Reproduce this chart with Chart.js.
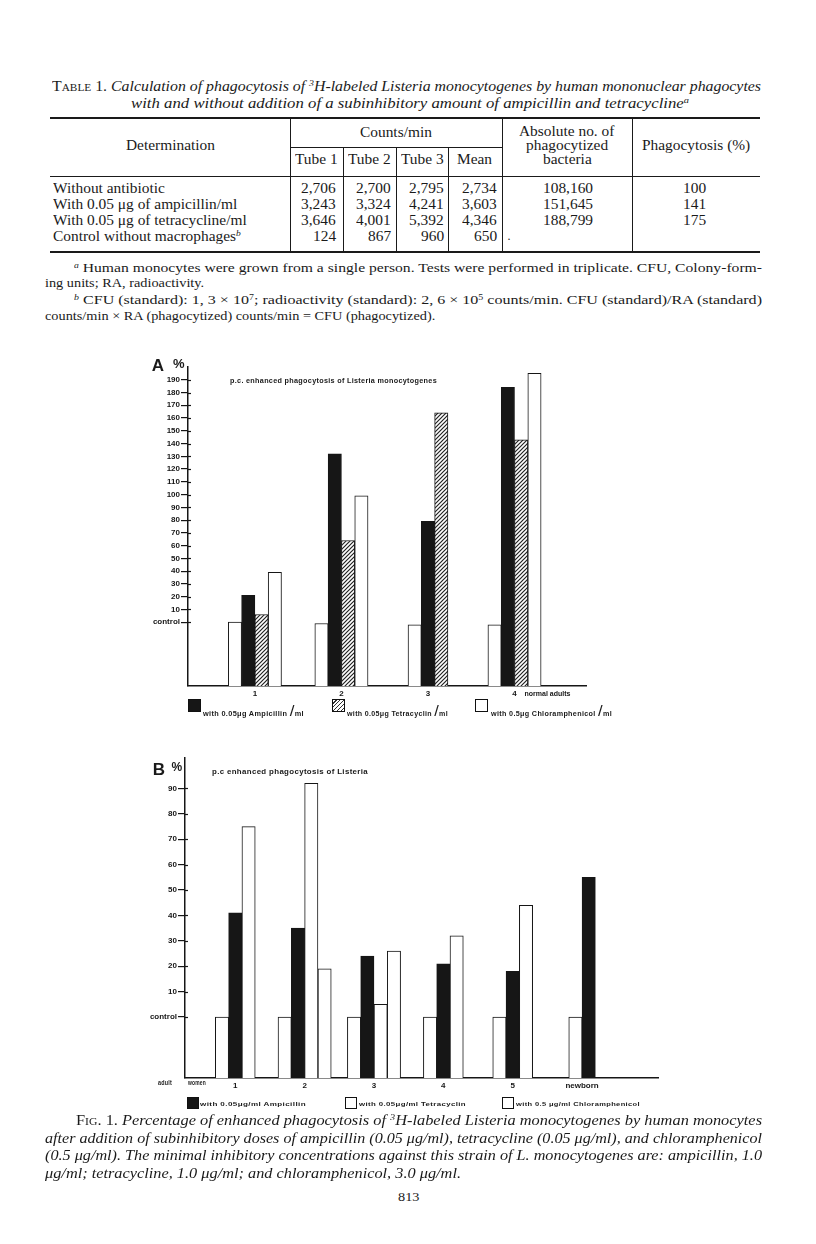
<!DOCTYPE html>
<html>
<head>
<meta charset="utf-8">
<script src="https://cdn.jsdelivr.net/npm/chart.js@4.4.1/dist/chart.umd.min.js"></script>
<style>
  html, body { margin: 0; padding: 0; background: #fff; }
  #page { position: relative; width: 816px; height: 1244px; overflow: hidden; color: #1a1a1a; font-family: "Liberation Serif", serif; }
  .t { position: absolute; white-space: nowrap; line-height: 1; }
  .sc { font-style: normal; font-variant: small-caps; }
  .fig { font-family: "Liberation Sans", sans-serif; font-weight: bold; letter-spacing: 0.3px; }
  .rule { position: absolute; background: #1a1a1a; }
  .sw { position: absolute; border: 1px solid #111; box-sizing: border-box; background: #fff; }
  sup { font-size: 62%; line-height: 0; vertical-align: 0.55em; }
  canvas { position: absolute; }
</style>
</head>
<body>
<div id="page">
  <canvas id="chartA" width="480" height="345" style="left:140px;top:355px"></canvas>
  <canvas id="chartB" width="530" height="345" style="left:140px;top:750px"></canvas>
</div>
<script>
// ---- Figure A: enhanced phagocytosis of Listeria monocytogenes, normal adults (% over control)
const groupsA = ['1', '2', '3', '4'];
const controlA = [0, -1, -2, -2];
const ampicillinA = [21, 132, 79, 184];
const tetracyclinA = [6, 64, 164, 143];
const chloramphenicolA = [39, 99, null, 195];
const yTicksA = [0, 10, 20, 30, 40, 50, 60, 70, 80, 90, 100, 110, 120, 130, 140, 150, 160, 170, 180, 190];
const xNoteA = 'normal adults';

// ---- Figure B: enhanced phagocytosis of Listeria, adult women and newborn
const groupsB = ['1', '2', '3', '4', '5', 'newborn'];
const controlB = [0, 0, 0, 0, 0, 0];
const ampicillinB = [41, 35, 24, 21, 18, 55];
const tetracyclinB = [null, 92, 5, null, null, null];
const chloramphenicolB = [75, 19, 26, 32, 44, null];
const yTicksB = [0, 10, 20, 30, 40, 50, 60, 70, 80, 90];

// ---- Table 1
const rowLabels = ['Without antibiotic', 'With 0.05 μg of ampicillin/ml', 'With 0.05 μg of tetracycline/ml', 'Control without macrophages<sup><i>b</i></sup>'];
const tube1 = ['2,706', '3,243', '3,646', '124'];
const tube2 = ['2,700', '3,324', '4,001', '867'];
const tube3 = ['2,795', '4,241', '5,392', '960'];
const means = ['2,734', '3,603', '4,346', '650'];
const absolute = ['108,160', '151,645', '188,799', ''];
const phagocytosis = ['100', '141', '175', ''];

const INK = '#161616';
const page = document.getElementById('page');

// place a line of text; y is the visual middle of the line
function put(html, x, y, o = {}) {
  const el = document.createElement('div');
  el.className = 't ' + (o.cls || '');
  const size = o.size || 14;
  el.style.fontSize = size + 'px';
  if (o.italic) el.style.fontStyle = 'italic';
  el.innerHTML = html;
  page.appendChild(el);
  const w0 = el.getBoundingClientRect().width;
  const sx = o.w ? o.w / w0 : (o.sx || 1);
  const w = w0 * sx;
  const left = o.align === 'center' ? x - w / 2 : o.align === 'right' ? x - w : x;
  el.style.left = left + 'px';
  el.style.top = (y - size * 0.55) + 'px';
  el.style.transformOrigin = '0 0';
  el.style.transform = 'scaleX(' + sx + ')';
  return el;
}
function rule(x, y, w, h) {
  const d = document.createElement('div');
  d.className = 'rule';
  Object.assign(d.style, { left: x + 'px', top: y + 'px', width: w + 'px', height: h + 'px' });
  page.appendChild(d);
}
function swatch(x, y, s, bg) {
  const d = document.createElement('div');
  d.className = 'sw';
  Object.assign(d.style, { left: x + 'px', top: y + 'px', width: s + 'px', height: s + 'px' });
  if (bg) d.style.background = bg;
  page.appendChild(d);
}

// ---------------- Table 1 ----------------
put('<span class="sc">Table</span> 1. <i>Calculation of phagocytosis of <sup>3</sup>H-labeled Listeria monocytogenes by human mononuclear phagocytes</i>', 52, 88, { w: 709 });
put('<i>with and without addition of a subinhibitory amount of ampicillin and tetracycline<sup>a</sup></i>', 410, 105, { w: 558, align: 'center' });

rule(50, 117, 710, 2);
rule(50, 176, 710, 1);
rule(50, 251, 710, 2);
rule(290, 118, 1, 134);
rule(502, 118, 1, 134);
rule(632, 118, 1, 134);
rule(290, 147, 212, 1);
rule(343, 147, 1, 105);
rule(396, 147, 1, 105);
rule(448, 147, 1, 105);

const TS = { size: 14, sx: 1.1 };
put('Determination', 170, 147, Object.assign({ align: 'center' }, TS));
put('Counts/min', 396, 134, Object.assign({ align: 'center' }, TS));
['Tube 1', 'Tube 2', 'Tube 3', 'Mean'].forEach((s, i) => put(s, [316.5, 369.5, 422, 475][i], 161, Object.assign({ align: 'center' }, TS)));
put('Absolute no. of', 567, 133, Object.assign({ align: 'center' }, TS));
put('phagocytized', 567, 147, Object.assign({ align: 'center' }, TS));
put('bacteria', 567, 161, Object.assign({ align: 'center' }, TS));
put('Phagocytosis (%)', 696, 147, Object.assign({ align: 'center' }, TS));

const rowY = [190, 206, 222, 238];
rowLabels.forEach((s, i) => {
  put(s, 53, rowY[i], TS);
  put(tube1[i], 336, rowY[i], Object.assign({ align: 'right' }, TS));
  put(tube2[i], 391, rowY[i], Object.assign({ align: 'right' }, TS));
  put(tube3[i], 444, rowY[i], Object.assign({ align: 'right' }, TS));
  put(means[i], 497, rowY[i], Object.assign({ align: 'right' }, TS));
  if (absolute[i]) put(absolute[i], 568, rowY[i], Object.assign({ align: 'center' }, TS));
  if (phagocytosis[i]) put(phagocytosis[i], 695, rowY[i], Object.assign({ align: 'center' }, TS));
});
put('·', 507, 240, { size: 12 });

// footnotes
put('<sup><i>a</i></sup> Human monocytes were grown from a single person. Tests were performed in triplicate. CFU, Colony-form-', 74, 268, { size: 13, w: 688 });
put('ing units; RA, radioactivity.', 45, 283, { size: 13, sx: 1.1 });
put('<sup><i>b</i></sup> CFU (standard): 1, 3 × 10<sup>7</sup>; radioactivity (standard): 2, 6 × 10<sup>5</sup> counts/min. CFU (standard)/RA (standard)', 74, 300, { size: 13, w: 688 });
put('counts/min × RA (phagocytized) counts/min = CFU (phagocytized).', 45, 316, { size: 13, sx: 1.1 });

// ---------------- Figure A / B text ----------------
put('A', 158, 366, { cls: 'fig', size: 17, align: 'center' });
put('%', 179, 364, { cls: 'fig', size: 13, align: 'center' });
put('p.c. enhanced phagocytosis of Listeria monocytogenes', 230, 381, { cls: 'fig', size: 7, w: 207 });

swatch(188, 699, 13, INK);
put('with 0.05μg Ampicillin <span style="font-size:15px;font-weight:normal">/</span>ml', 203, 707, { cls: 'fig', size: 6.5, w: 101 });
swatch(332, 699, 13, 'repeating-linear-gradient(-45deg, #fff 0 1.5px, #333 1.5px 2.8px)');
put('with 0.05μg Tetracyclin <span style="font-size:15px;font-weight:normal">/</span>ml', 347, 707, { cls: 'fig', size: 6.5, w: 101 });
swatch(475, 699, 13);
put('with 0.5μg Chloramphenicol <span style="font-size:15px;font-weight:normal">/</span>ml', 491, 707, { cls: 'fig', size: 6.5, w: 121 });

put('B', 159, 770, { cls: 'fig', size: 17, align: 'center' });
put('%', 177, 768, { cls: 'fig', size: 12, align: 'center' });
put('p.c  enhanced  phagocytosis  of  Listeria', 212, 772, { cls: 'fig', size: 7, w: 156 });
put('adult', 158, 1083, { cls: 'fig', size: 7.5, w: 14 });
put('women', 188, 1083, { cls: 'fig', size: 7.5, w: 18 });

swatch(187, 1097, 12, INK);
put('with 0.05μg/ml Ampicillin', 200, 1104, { cls: 'fig', size: 6, w: 106 });
swatch(345, 1097, 12);
put('with 0.05μg/ml Tetracyclin', 359, 1104, { cls: 'fig', size: 6, w: 107 });
swatch(502, 1097, 12);
put('with 0.5 μg/ml Chloramphenicol', 516, 1104, { cls: 'fig', size: 6, w: 124 });

// caption
put('<span class="sc">Fig</span>. 1. <i>Percentage of enhanced phagocytosis of <sup>3</sup>H-labeled Listeria monocytogenes by human monocytes</i>', 76, 1122, { size: 14, w: 686 });
put('<i>after addition of subinhibitory doses of ampicillin (0.05 μg/ml), tetracycline (0.05 μg/ml), and chloramphenicol</i>', 45, 1140, { size: 14, w: 717 });
put('<i>(0.5 μg/ml). The minimal inhibitory concentrations against this strain of L. monocytogenes are: ampicillin, 1.0</i>', 45, 1157, { size: 14, w: 717 });
put('<i>μg/ml; tetracycline, 1.0 μg/ml; and chloramphenicol, 3.0 μg/ml.</i>', 45, 1175, { size: 14, w: 416 });
put('813', 409, 1197, { size: 13, align: 'center', sx: 1.1 });

// ---------------- charts ----------------
function hatchPattern() {
  const c = document.createElement('canvas');
  c.width = 4; c.height = 4;
  const g = c.getContext('2d');
  g.fillStyle = '#fff';
  g.fillRect(0, 0, 4, 4);
  g.strokeStyle = '#222';
  g.lineWidth = 1.2;
  g.beginPath();
  g.moveTo(0, 4); g.lineTo(4, 0);
  g.moveTo(-1, 1); g.lineTo(1, -1);
  g.moveTo(3, 5); g.lineTo(5, 3);
  g.stroke();
  return g.createPattern(c, 'repeat');
}

const TICK_FONT = { family: 'Liberation Sans', size: 8, weight: 'bold' };

// short tick stubs poking through the y axis into the plot, as on the original
const tickCross = {
  id: 'tickCross',
  afterDraw(chart) {
    const { ctx, scales: { y } } = chart;
    ctx.save();
    ctx.strokeStyle = INK;
    ctx.lineWidth = 1.2;
    y.ticks.forEach(t => {
      const py = Math.round(y.getPixelForValue(t.value)) + 0.5;
      ctx.beginPath();
      ctx.moveTo(y.right, py);
      ctx.lineTo(y.right + 3, py);
      ctx.stroke();
    });
    ctx.restore();
  }
};

function makeChart(canvasId, labels, series, yTicks, geo) {
  const common = { borderColor: INK, borderWidth: 1, borderSkipped: 'start', barThickness: 13.3, skipNull: true, base: geo.yMin };
  return new Chart(document.getElementById(canvasId), {
    type: 'bar',
    data: {
      labels: labels.map((_, i) => i + 1),
      datasets: series.map(s => Object.assign({ label: s.label, data: s.data, backgroundColor: s.fill }, common))
    },
    options: {
      responsive: false,
      animation: false,
      layout: { padding: { top: geo.padTop, right: geo.padRight, left: 0, bottom: 0 } },
      plugins: { legend: { display: false }, tooltip: { enabled: false } },
      scales: {
        x: {
          type: 'linear', min: geo.xMin, max: geo.xMax, offset: false,
          grid: { display: false, drawTicks: false },
          border: { color: INK, width: 1.5 },
          afterBuildTicks: s => { s.ticks = labels.map((_, i) => ({ value: i + 1 })); },
          afterFit: s => { s.height = geo.xAxisH; },
          ticks: { callback: v => labels[v - 1], font: TICK_FONT, color: INK, padding: 3, maxRotation: 0, autoSkip: false }
        },
        y: {
          min: geo.yMin, max: geo.yMax,
          grid: { drawOnChartArea: false, drawTicks: true, tickLength: 7, color: INK, lineWidth: 1.2 },
          border: { color: INK, width: 1.5 },
          afterBuildTicks: s => { s.ticks = yTicks.map(v => ({ value: v })); },
          afterFit: s => { s.width = geo.yAxisW; },
          ticks: { callback: v => v === 0 ? 'control' : v, font: TICK_FONT, color: INK, padding: 1, autoSkip: false }
        }
      }
    },
    plugins: [tickCross].concat(geo.plugins || [])
  });
}

const noteA = {
  id: 'noteA',
  afterDraw(chart) {
    const { ctx, scales: { x } } = chart;
    ctx.save();
    ctx.font = 'bold 7px "Liberation Sans"';
    ctx.fillStyle = INK;
    ctx.textBaseline = 'middle';
    ctx.fillText(xNoteA, x.getPixelForValue(groupsA.length) + 10, x.top + 8);
    ctx.restore();
  }
};

const hatch = hatchPattern();

makeChart('chartA', groupsA, [
  { label: 'control', data: controlA, fill: '#fff' },
  { label: 'with 0.05μg Ampicillin/ml', data: ampicillinA, fill: INK },
  { label: 'with 0.05μg Tetracyclin/ml', data: tetracyclinA, fill: hatch },
  { label: 'with 0.5μg Chloramphenicol/ml', data: chloramphenicolA, fill: '#fff' }
], yTicksA, { yMin: -50, yMax: 200, xMin: 0.227, xMax: 4.826, padTop: 12, padRight: 34, xAxisH: 14, yAxisW: 48, plugins: [noteA] });

makeChart('chartB', groupsB, [
  { label: 'control', data: controlB, fill: '#fff' },
  { label: 'with 0.05μg/ml Ampicillin', data: ampicillinB, fill: INK },
  { label: 'with 0.05μg/ml Tetracyclin', data: tetracyclinB, fill: '#fff' },
  { label: 'with 0.5 μg/ml Chloramphenicol', data: chloramphenicolB, fill: '#fff' }
], yTicksB, { yMin: -24, yMax: 102, xMin: 0.275, xMax: 7.095, padTop: 8, padRight: 12, xAxisH: 17, yAxisW: 45 });
</script>
</body>
</html>
